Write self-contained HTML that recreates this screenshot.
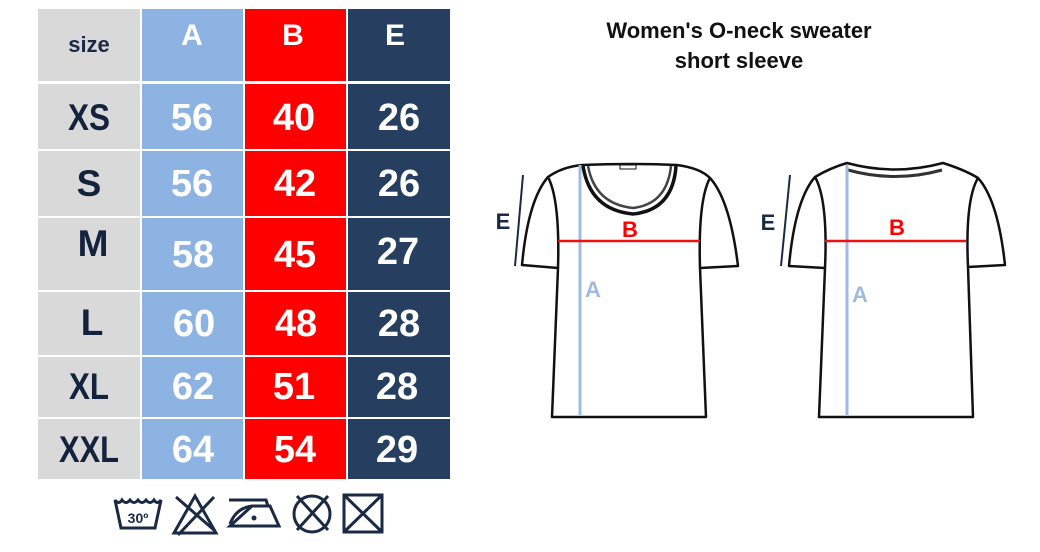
<!DOCTYPE html>
<html><head><meta charset="utf-8"><style>
html,body{margin:0;padding:0;background:#fff;}
svg{display:block}
text{font-family:"Liberation Sans",sans-serif;font-weight:bold}
</style></head><body>
<svg width="1040" height="552" viewBox="0 0 1040 552" xmlns="http://www.w3.org/2000/svg">
<rect width="1040" height="552" fill="#fff"/>
<rect x="38" y="9" width="102" height="470" fill="#d9d9d9"/>
<rect x="142" y="9" width="101" height="470" fill="#8db3e2"/>
<rect x="245" y="9" width="101" height="470" fill="#ff0000"/>
<rect x="348" y="9" width="102" height="470" fill="#263f60"/>
<g fill="#fff">
<rect x="38" y="81" width="412" height="3"/>
<rect x="38" y="149" width="412" height="2"/>
<rect x="38" y="216" width="412" height="2"/>
<rect x="38" y="290" width="412" height="2"/>
<rect x="38" y="355" width="412" height="2"/>
<rect x="38" y="417" width="412" height="2"/>
<rect x="140" y="9" width="2" height="470"/>
<rect x="243" y="9" width="2" height="470"/>
<rect x="346" y="9" width="2" height="470"/>
</g>
<g text-anchor="middle">
<text x="89" y="52" font-size="22" fill="#1a2a45">size</text>
<text x="192" y="45" font-size="30" fill="#fff">A</text>
<text x="293" y="45" font-size="30" fill="#fff">B</text>
<text x="395" y="45" font-size="30" fill="#fff">E</text>
<g font-size="37" fill="#13223d">
<text x="89" y="130" textLength="42" lengthAdjust="spacingAndGlyphs">XS</text>
<text x="89" y="196">S</text>
<text x="93" y="256">M</text>
<text x="92" y="335">L</text>
<text x="89" y="399" textLength="40" lengthAdjust="spacingAndGlyphs">XL</text>
<text x="89" y="462" textLength="60" lengthAdjust="spacingAndGlyphs">XXL</text>
</g>
<g font-size="38" fill="#fff">
<text x="192" y="130">56</text><text x="294" y="130">40</text><text x="399" y="130">26</text>
<text x="192" y="196">56</text><text x="295" y="196">42</text><text x="399" y="196">26</text>
<text x="193" y="267">58</text><text x="295" y="267">45</text><text x="398" y="264">27</text>
<text x="194" y="336">60</text><text x="296" y="336">48</text><text x="399" y="336">28</text>
<text x="193" y="399">62</text><text x="294" y="399">51</text><text x="397" y="399">28</text>
<text x="193" y="462">64</text><text x="295" y="462">54</text><text x="397" y="462">29</text>
</g>
</g>
<g stroke="#1a2a45" stroke-width="3" fill="none">
<path d="M115 500 Q119 505 122 500 Q126 505 130 500 Q134 505 138 500 Q142 505 146 500 Q150 505 154 500 Q157 505 161 500 L155 528 L121 528 Z"/>
<path d="M174 533 L195 496 L216 533 Z"/>
<path d="M176 497 L214 530 M214 497 L178 535"/>
<path d="M230 524 Q236 508 252 506 L268 506 L266 500 L229 500 M252 506 L270 506 L279 526 L230 526 Z"/>
<circle cx="312" cy="514" r="18"/>
<path d="M297 496 L328 530 M328 496 L297 530"/>
<rect x="344" y="495" width="38" height="37"/>
<path d="M344 495 L382 532 M382 495 L344 532"/>
</g>
<text x="138" y="523" font-size="14" fill="#1a2a45" text-anchor="middle">30º</text>
<circle cx="254" cy="518" r="2.5" fill="#1a2a45"/>
<g text-anchor="middle" font-size="22" fill="#111">
<text x="739" y="38">Women's O-neck sweater</text>
<text x="739" y="68">short sleeve</text>
</g>
<g stroke="#111" stroke-width="2.5" fill="none" stroke-linejoin="round">
<path d="M582 165 Q630 163 677 165 Q700 168 710 178 Q730 200 738 266 L700 268 L706 417 L552 417 L558 268 L522 265 Q528 200 548 177 Q562 167 582 165 Z"/>
<path d="M548 177 Q560 200 558 268"/>
<path d="M710 178 Q698 200 700 268"/>
<path d="M583 166 Q590 210 633 214 Q673 210 676 166" stroke-width="3.5"/>
<path d="M588 166 Q595 204 633 208 Q667 204 671 166" stroke-width="2.5" stroke="#444"/>
<rect x="620" y="165" width="16" height="4" stroke-width="1"/>
</g>
<line x1="580" y1="165" x2="580" y2="415" stroke="#9fbbdf" stroke-width="3"/>
<line x1="558" y1="241" x2="700" y2="241" stroke="#ee1111" stroke-width="2.5"/>
<line x1="523" y1="175" x2="515" y2="266" stroke="#1a2a45" stroke-width="2"/>
<text x="503" y="229" font-size="22" fill="#1a2a45" text-anchor="middle" font-weight="normal">E</text>
<text x="630" y="237" font-size="22" fill="#f00" text-anchor="middle">B</text>
<text x="593" y="297" font-size="22" fill="#9fbbdf" text-anchor="middle" font-weight="normal">A</text>
<g stroke="#111" stroke-width="2.5" fill="none" stroke-linejoin="round">
<path d="M847 163 Q895 176 943 163 Q965 170 978 178 Q998 200 1005 265 L968 267 L973 417 L819 417 L825 268 L789 266 Q795 200 815 177 Q830 168 847 163 Z"/>
<path d="M815 177 Q828 200 825 268"/>
<path d="M978 178 Q965 200 968 267"/>
<path d="M848 170 Q895 183 942 170" stroke-width="3" stroke="#333"/>
</g>
<line x1="847" y1="165" x2="847" y2="415" stroke="#9fbbdf" stroke-width="3"/>
<line x1="825" y1="241" x2="966" y2="241" stroke="#ee1111" stroke-width="2.5"/>
<line x1="790" y1="175" x2="781" y2="266" stroke="#1a2a45" stroke-width="2"/>
<text x="768" y="230" font-size="22" fill="#1a2a45" text-anchor="middle" font-weight="normal">E</text>
<text x="897" y="235" font-size="22" fill="#f00" text-anchor="middle">B</text>
<text x="860" y="302" font-size="22" fill="#9fbbdf" text-anchor="middle" font-weight="normal">A</text>
</svg>
</body></html>
